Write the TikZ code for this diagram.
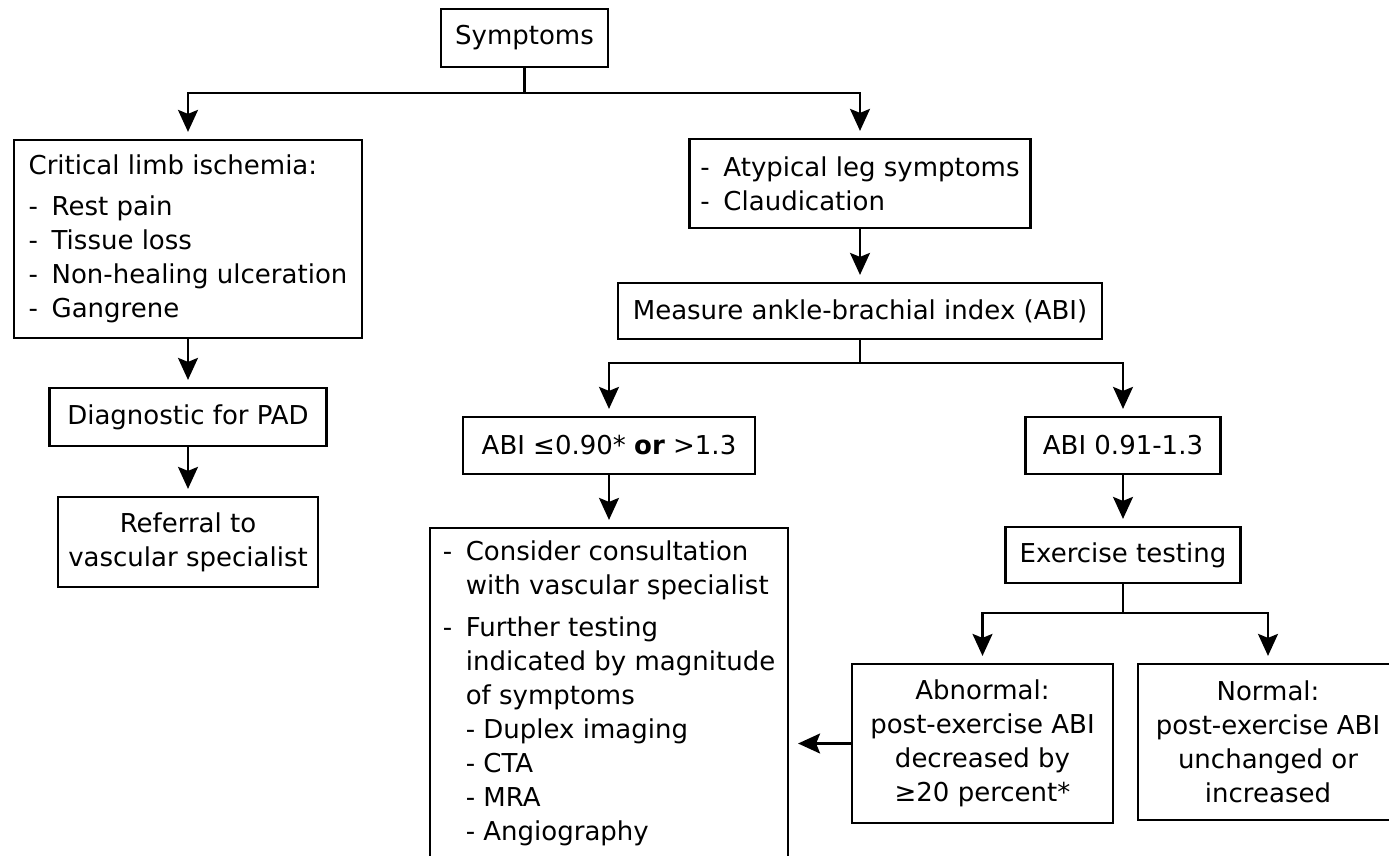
\documentclass[tikz,border=0pt]{standalone}
\usepackage{fontspec}
\setmainfont{DejaVu Sans}
\usepackage{tikz}
\usetikzlibrary{arrows.meta,positioning,calc}
\newcommand\dashitem{\makebox[23pt][l]{-}}
\tikzset{
  box/.style = {draw, line width = 2.2pt, inner sep = 0pt, align = center, font = \fontsize{26pt}{34pt}\selectfont},
  listbox/.style = {box, align = left},
  link/.style = {line width = 2.2pt},
  arr/.style = {link, -{Stealth[length = 22pt, width = 20pt, inset = 4pt]}, shorten > = 7pt},
}

\begin{document}
\begin{tikzpicture}[x = 1pt, y = -1pt]
\clip (0,0) rectangle (1389,856);
% left branch
\node[box, minimum width = 167pt, minimum height = 58pt] (sym) at (524.5,38) {Symptoms};
\node[listbox, minimum width = 348pt, minimum height = 198pt] (crit) at (188,239) {Critical limb ischemia:\\[7pt] \dashitem Rest pain\\ \dashitem Tissue loss\\ \dashitem Non-healing ulceration\\ \dashitem Gangrene};
\node[box, minimum width = 277pt, minimum height = 58pt] (diag) at (188,417) {Diagnostic for PAD};
\node[box, minimum width = 260pt, minimum height = 90pt] (refer) at (188,542) {Referral to\\vascular specialist};
% right branch
\node[listbox, minimum width = 341pt, minimum height = 89pt] (atyp) at (860,183.5) {\dashitem Atypical leg symptoms\\ \dashitem Claudication};
\node[box, minimum width = 484pt, minimum height = 56pt] (meas) at (860,311) {Measure ankle-brachial index (ABI)};
\node[box, minimum width = 292pt, minimum height = 57pt] (abilo) at (609,445.5) {ABI ≤0.90* \textbf{or} >1.3};
\node[box, minimum width = 195pt, minimum height = 57pt] (abihi) at (1123,445.5) {ABI 0.91-1.3};
\node[listbox, minimum width = 358pt, minimum height = 330pt] (cons) at (609,693) {\dashitem Consider consultation\\ \hspace*{23pt}with vascular specialist\\[8pt] \dashitem Further testing\\ \hspace*{23pt}indicated by magnitude\\ \hspace*{23pt}of symptoms\\ \hspace*{23pt}- Duplex imaging\\ \hspace*{23pt}- CTA\\ \hspace*{23pt}- MRA\\ \hspace*{23pt}- Angiography};
\node[box, minimum width = 235pt, minimum height = 56pt] (exer) at (1123,555) {Exercise testing};
\node[box, minimum width = 261pt, minimum height = 159pt] (abn) at (982.5,743.5) {Abnormal:\\post-exercise ABI\\decreased by\\≥20 percent*};
\node[box, minimum width = 260pt, minimum height = 156pt] (norm) at (1268,742) {Normal:\\post-exercise ABI\\unchanged or\\increased};

\draw[link] (sym.south) -- ++(0,25) coordinate (j1);
\draw[arr] (j1) -| (crit.north);
\draw[arr] (j1) -| (atyp.north);
\draw[arr] (crit) -- (diag);
\draw[arr] (diag) -- (refer);
\draw[arr] (atyp) -- (meas);
\draw[link] (meas.south) -- ++(0,23) coordinate (j2);
\draw[arr] (j2) -| (abilo.north);
\draw[arr] (j2) -| (abihi.north);
\draw[arr] (abilo) -- (cons);
\draw[arr] (abihi) -- (exer);
\draw[link] (exer.south) -- ++(0,29) coordinate (j3);
\draw[arr] (j3) -| (abn.north);
\draw[arr] (j3) -| (norm.north);
\draw[arr, shorten > = 9pt] (abn.west) -- (abn.west -| cons.east);
\end{tikzpicture}
\end{document}
